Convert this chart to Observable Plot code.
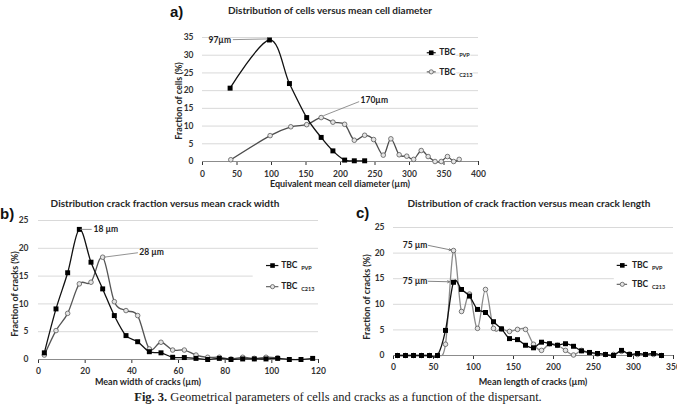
<!DOCTYPE html>
<html><head><meta charset="utf-8">
<script src="https://cdn.jsdelivr.net/npm/d3@7"></script>
<script src="https://cdn.jsdelivr.net/npm/@observablehq/plot@0.6"></script>
<style>
body{margin:0;background:#fff;}
#fig{position:relative;width:677px;height:411px;overflow:hidden;background:#fff;font-family:Lato,"Open Sans",sans-serif;color:#262626;}
.t{position:absolute;white-space:nowrap;line-height:1;}
.title{font-weight:bold;font-size:10px;transform:translate(-50%,-50%);}
.pl{font-weight:bold;font-size:15px;font-family:"Liberation Sans",Arial,sans-serif;transform:translate(0,-50%);color:#111;}
.xl{font-size:9px;font-weight:bold;transform:translate(-50%,-50%);}
.yl{font-size:9px;font-weight:bold;transform:translate(-50%,-50%) rotate(-90deg);}
.cap{font-family:"Liberation Serif","DejaVu Serif",serif;font-size:12.5px;transform:translate(-50%,-50%);color:#222;}
.plot{position:absolute;}
</style></head><body><div id="fig"></div>
<script>
// ---------- data ----------
// a) cells
const cellDiamPVP = [40, 97, 126, 151, 172, 189, 206, 220, 235];
const cellFracPVP = [20.7, 34.3, 22.0, 12.4, 6.8, 3.0, 0.4, 0.2, 0.2];
const cellDiamC213 = [41, 98, 128, 151, 172, 189, 206, 220, 235, 248, 262, 273, 285, 296, 306, 317, 327, 337, 346, 355, 364, 372];
const cellFracC213 = [0.5, 7.3, 9.8, 10.4, 12.4, 11.1, 10.5, 6.0, 7.4, 6.2, 1.8, 6.4, 1.9, 1.5, 0.6, 3.1, 1.4, 0, 0, 1.4, 0, 0.6];
// b) crack width
const widthPVP = [2.5, 7.5, 12.5, 17.5, 22.5, 27.5, 32.5, 37.5, 42.5, 47.5, 52.5, 57.5, 62.5, 67.5, 72.5, 77.5, 82.5, 87.5, 92.5, 97.5, 102.5, 107.5, 112.5, 117.5];
const widthFracPVP = [1.2, 9.1, 15.6, 23.4, 17.5, 12.7, 7.9, 4.3, 3.2, 1.4, 1.2, 0.4, 0.35, 0.2, 0, 0.2, 0, 0.1, 0.1, 0.1, 0.2, 0, 0, 0.2];
const widthC213 = [2.5, 7.5, 12.5, 17.5, 22.5, 27.5, 32.5, 37.5, 42.5, 47.5, 52.5, 57.5, 62.5, 67.5, 72.5, 77.5, 82.5, 87.5, 92.5, 97.5, 102.5];
const widthFracC213 = [0.8, 5.2, 8.3, 13.6, 13.9, 18.4, 10.4, 8.8, 7.9, 1.9, 3.1, 1.7, 1.7, 0.8, 0.4, 0.4, 0.1, 0.4, 0.2, 0.4, 0.3];
// c) crack length
const lengthBins = [5, 15, 25, 35, 45, 55, 65, 75, 85, 95, 105, 115, 125, 135, 145, 155, 165, 175, 185, 195, 205, 215, 225, 235, 245, 255, 265, 275, 285, 295, 305, 315, 325, 335];
const lengthFracPVP = [0, 0, 0, 0, 0, 0, 4.9, 14.3, 12.9, 11.6, 9.0, 8.4, 6.6, 5.2, 3.3, 3.1, 2.0, 1.5, 2.6, 2.3, 2.0, 2.3, 1.8, 0.9, 0.6, 0.4, 0.2, 0, 1.0, 0.2, 0.4, 0.2, 0.4, 0];
const lengthFracC213 = [0, 0, 0, 0, 0, 0, 2.2, 20.5, 8.6, 12.0, 5.3, 12.9, 5.3, 5.2, 4.7, 5.1, 5.1, 2.2, 1.0, 2.3, 2.0, 1.0, 0.1, 1.0, 0.5, 0.3, 0.2, 0.2, 0.8, 0.3, 0.2, 0.2, 0.2, 0];

// ticks
const ticksA_x = [0, 50, 100, 150, 200, 250, 300, 350, 400];
const ticksA_y = [0, 5, 10, 15, 20, 25, 30, 35];
const ticksB_x = [0, 20, 40, 60, 80, 100, 120];
const ticksB_y = [0, 5, 10, 15, 20, 25];
const ticksC_x = [0, 50, 100, 150, 200, 250, 300, 350];
const ticksC_y = [0, 5, 10, 15, 20, 25];

// texts
const seriesNames = ["PVP", "C213"];
const annotA = [{x: 25, y: 34.1, text: "97µm", x1: 44, y1: 34.4, x2: 95, y2: 34.6}, {x: 249, y: 17.2, text: "170µm", x1: 227, y1: 16.9, x2: 175, y2: 12.9}];
const annotB = [{x: 23.6, y: 23.4, text: "18 µm", x1: 17.8, y1: 23.4, x2: 22.8, y2: 23.4}, {x: 43.2, y: 19.3, text: "28 µm", x1: 28, y1: 18.4, x2: 42.6, y2: 19.2}];
const annotC = [{x: 27, y: 21.6, text: "75 µm", x1: 43.7, y1: 21.5, x2: 72, y2: 20.6}, {x: 27, y: 14.5, text: "75 µm", x1: 43.4, y1: 14.5, x2: 70, y2: 14.4}];

// ---------- helpers ----------
const fig = document.getElementById("fig");
function addText(cls, html, x, y) {
  const d = document.createElement("div");
  d.className = "t " + cls;
  d.innerHTML = html;
  d.style.left = x + "px";
  d.style.top = y + "px";
  fig.appendChild(d);
}

function panel(cfg) {
  const ci = d3.range(cfg.cx.length);
  const pi = d3.range(cfg.px.length);
  const L = cfg.legend;
  const entries = [
    {name: seriesNames[0], y: L.y[0], kind: "pvp"},
    {name: seriesNames[1], y: L.y[1], kind: "c213"}
  ];
  const marks = [
    Plot.ruleY(cfg.yTicks, {stroke: "#d9d9d9", strokeWidth: 1})
  ];
  if (L.box) marks.push(Plot.rect([L.box], {x1: "x1", x2: "x2", y1: "y1", y2: "y2", fill: "white"}));
  marks.push(Plot.ruleY([0], {stroke: "#8c8c8c", strokeWidth: 1}));
  // C213 series
  marks.push(Plot.line(ci, {x: i => cfg.cx[i], y: i => cfg.cy[i], curve: "cardinal", stroke: cfg.cStroke, strokeWidth: 1.3}));
  marks.push(Plot.dot(ci, {x: i => cfg.cx[i], y: i => cfg.cy[i], r: 2.3, symbol: "circle", fill: "#e4e4e4", stroke: "#5a5a5a", strokeWidth: 0.8}));
  // PVP series
  marks.push(Plot.line(pi, {x: i => cfg.px[i], y: i => cfg.py[i], curve: "cardinal", stroke: "#111", strokeWidth: 1.3}));
  marks.push(Plot.dot(pi, {x: i => cfg.px[i], y: i => cfg.py[i], r: 2.8, symbol: "square", fill: "#000", stroke: "none"}));
  // legend
  marks.push(Plot.link(entries, {x1: () => L.seg[0], x2: () => L.seg[1], y1: "y", y2: "y", stroke: d => d.kind === "pvp" ? "#111" : "#666", strokeWidth: 1.2}));
  marks.push(Plot.dot(entries.filter(d => d.kind === "pvp"), {x: () => L.mark, y: "y", r: 2.6, symbol: "square", fill: "#000"}));
  marks.push(Plot.dot(entries.filter(d => d.kind === "c213"), {x: () => L.mark, y: "y", r: 2.1, symbol: "circle", fill: "#e4e4e4", stroke: "#5a5a5a", strokeWidth: 0.8}));
  marks.push(Plot.text(entries, {x: () => L.text, y: "y", text: () => "TBC", textAnchor: "start", fontSize: 8.5, fill: "#222", stroke: "white", strokeWidth: 3}));
  marks.push(Plot.text(entries, {x: () => L.text, y: "y", text: "name", textAnchor: "start", dx: 20, dy: 3, fontSize: 5.5, fill: "#222", stroke: "white", strokeWidth: 2}));
  // annotations
  if (cfg.arrows) {
    marks.push(Plot.arrow(cfg.annot, {x1: "x1", y1: "y1", x2: "x2", y2: "y2", stroke: "#666", strokeWidth: 0.8, headLength: 4}));
  } else {
    marks.push(Plot.link(cfg.annot, {x1: "x1", y1: "y1", x2: "x2", y2: "y2", stroke: "#777", strokeWidth: 0.8}));
  }
  marks.push(Plot.text(cfg.annot, {x: "x", y: "y", text: "text", textAnchor: cfg.annotAnchor, fontSize: 8.5, fill: "#222"}));

  const svg = Plot.plot({
    width: cfg.width, height: cfg.height,
    marginLeft: cfg.m[0], marginRight: cfg.m[1], marginTop: cfg.m[2], marginBottom: cfg.m[3],
    x: {domain: cfg.xDomain, ticks: cfg.xTicks, tickSize: 4, tickPadding: cfg.xPad, label: null, tickFormat: d => String(d)},
    y: {domain: cfg.yDomain, ticks: cfg.yTicks, tickSize: 0, tickPadding: cfg.yPad, label: null, tickFormat: d => String(d)},
    style: {fontFamily: "Lato, 'Open Sans', sans-serif", fontSize: "8.5px", fontWeight: "bold", color: "#333", background: "transparent", overflow: "visible", maxWidth: "none"},
    marks
  });
  svg.classList.add("plot");
  svg.style.position = "absolute";
  svg.style.left = cfg.left + "px";
  svg.style.top = cfg.top + "px";
  fig.appendChild(svg);
}

// ---------- panel a ----------
panel({
  left: 140, top: 20, width: 345, height: 185, m: [62, 7, 17, 44],
  xDomain: [0, 400], yDomain: [0, 35], xTicks: ticksA_x, yTicks: ticksA_y, xPad: 5, yPad: 9,
  px: cellDiamPVP, py: cellFracPVP, cx: cellDiamC213, cy: cellFracC213, cStroke: "#4d4d4d",
  legend: {y: [30.7, 25.3], seg: [325, 338], mark: 331.5, text: 343},
  annot: annotA, annotAnchor: "middle"
});
// ---------- panel b ----------
panel({
  left: 0, top: 205, width: 330, height: 185, m: [38, 12, 15, 31],
  xDomain: [0, 120], yDomain: [0, 25], xTicks: ticksB_x, yTicks: ticksB_y, xPad: 4, yPad: 10,
  px: widthPVP, py: widthFracPVP, cx: widthC213, cy: widthFracC213, cStroke: "#555",
  legend: {y: [16.9, 13.1], seg: [97.5, 102.8], mark: 100.3, text: 104, box: {x1: 92, x2: 121, y1: 11.3, y2: 18.5}},
  annot: annotB, annotAnchor: "start"
});
// ---------- panel c ----------
panel({
  left: 345, top: 205, width: 332, height: 185, m: [48, 4, 22, 35],
  xDomain: [0, 350], yDomain: [0, 25], xTicks: ticksC_x, yTicks: ticksC_y, xPad: 4, yPad: 9,
  px: lengthBins, py: lengthFracPVP, cx: lengthBins, cy: lengthFracC213, cStroke: "#8a8a8a",
  legend: {y: [17.6, 13.9], seg: [279, 292], mark: 286, text: 298, box: {x1: 276, x2: 351, y1: 12.1, y2: 19.3}},
  annot: annotC, annotAnchor: "middle", arrows: true
});

// ---------- html texts ----------
addText("pl", "a)", 170, 11);
addText("title", "Distribution of cells versus mean cell diameter", 330, 10);
addText("xl", "Equivalent mean cell diameter (µm)", 340, 183);
addText("yl", "Fraction of cells (%)", 178, 101);

addText("pl", "b)", 0, 213);
addText("title", "Distribution crack fraction versus mean crack width", 165, 203);
addText("xl", "Mean width of cracks (µm)", 148, 381);
addText("yl", "Fraction of cracks (%)", 14, 294);

addText("pl", "c)", 356, 212);
addText("title", "Distribution of crack fraction versus mean crack length", 529, 203);
addText("xl", "Mean length of cracks (µm)", 533, 381);
addText("yl", "Fraction of cracks (%)", 366, 297);

addText("cap", "<b>Fig. 3.</b> Geometrical parameters of cells and cracks as a function of the dispersant.", 338, 397);
</script>
</body></html>
